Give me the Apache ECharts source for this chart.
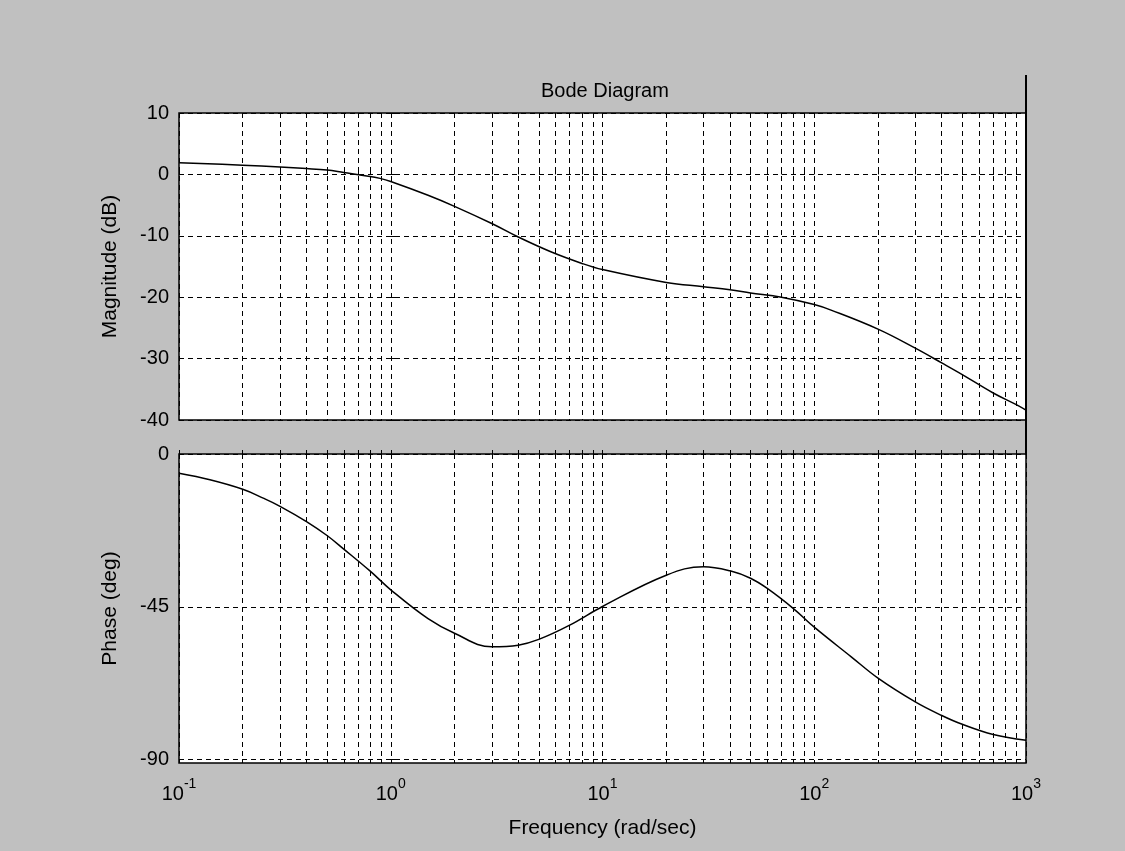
<!DOCTYPE html>
<html>
<head>
<meta charset="utf-8">
<title>Bode Diagram</title>
<script src="https://cdn.jsdelivr.net/npm/echarts@6/dist/echarts.min.js"></script>
<style>
  html, body { margin: 0; padding: 0; background: #c0c0c0; }
  #chart { width: 1125px; height: 851px; }
</style>
</head>
<body>
<div id="chart"></div>
<script>
// magnitude (rad/sec, dB)
var magFreq = [0.1, 0.2, 0.3, 0.4, 0.5, 0.6, 0.77, 0.89, 1, 1.5, 2, 3, 4, 5.7, 8, 10,
    20, 30, 40, 50, 70, 100, 120, 200, 300, 400, 500, 700, 900, 1000];
var magDb = [1.9, 1.5, 1.2, 0.95, 0.7, 0.3, -0.25, -0.65, -1.15, -3.4, -5.2, -8.0, -10.2, -12.6, -14.5, -15.5,
    -17.6, -18.3, -18.8, -19.3, -20.0, -21.2, -22.1, -25.2, -28.3, -30.7, -32.6, -35.6, -37.5, -38.4];

// phase (rad/sec, deg)
var phFreq = [0.1, 0.14, 0.2, 0.25, 0.3, 0.4, 0.5, 0.6, 0.8, 1, 1.5, 2, 3, 4, 5, 7, 10,
    20, 30, 40, 50, 60, 80, 100, 150, 200, 300, 400, 500, 700, 1000];
var phDeg = [-5.7, -7.6, -10.4, -13.0, -15.4, -19.9, -24.0, -28.0, -34.5, -40.0, -48.5, -52.8, -56.8, -56.3, -54.6, -50.4, -44.9,
    -35.7, -33.2, -34.4, -36.6, -39.6, -45.6, -51.0, -59.8, -66.0, -73.0, -77.0, -79.6, -82.6, -84.3];

var decades = [-1, 0, 1, 2, 3];
var phTicks = [-90, -45, 0];

// log grid: 1..9 in every decade, as log10 positions
var logLines = [];
for (var d = -1; d < 3; d++) {
    for (var k = 1; k < 10; k++) {
        logLines.push(Math.log10(k * Math.pow(10, d)));
    }
}
logLines.push(3);

function toLog(freq, vals) {
    return freq.map(function (f, i) { return [Math.log10(f), vals[i]]; });
}

var font = 'Liberation Sans, Arial, sans-serif';
var dash = { color: '#000', width: 1, type: [5, 4] };

function xAxisFor(idx, withLabels) {
    return {
        type: 'value', gridIndex: idx, min: -1, max: 3,
        axisLine: { show: false },
        axisTick: { show: true, inside: true, length: 4, customValues: logLines,
            lineStyle: { color: '#000' } },
        splitLine: { show: true, lineStyle: dash },
        axisLabel: {
            show: withLabels, customValues: decades, margin: 9, color: '#000',
            formatter: function (v) { return '{b|10}{s|' + Math.round(v) + '}'; },
            rich: {
                b: { fontFamily: font, fontSize: 20, color: '#000', padding: [12, 0, 0, 0] },
                s: { fontFamily: font, fontSize: 14, color: '#000', padding: [0, 0, 8, 0] }
            }
        },
        name: withLabels ? 'Frequency (rad/sec)' : '',
        nameLocation: 'middle', nameGap: 55,
        nameTextStyle: { fontFamily: font, fontSize: 21, color: '#000' }
    };
}

var option = {
    backgroundColor: '#c0c0c0',
    animation: false,
    title: {
        text: 'Bode Diagram', left: 536, top: 76,
        textStyle: { fontFamily: font, fontSize: 20, fontWeight: 'normal', color: '#000' }
    },
    grid: [
        { left: 179, right: 99, top: 113, height: 307, show: true,
          backgroundColor: '#fff', borderColor: '#000', borderWidth: 1.5 },
        { left: 179, right: 99, top: 454, height: 309, show: true,
          backgroundColor: '#fff', borderColor: '#000', borderWidth: 1.5 }
    ],
    xAxis: [xAxisFor(0, false), xAxisFor(1, true)],
    yAxis: [
        {
            type: 'value', gridIndex: 0, min: -40, max: 10, interval: 10,
            axisLine: { show: false },
            axisTick: { show: true, inside: true, length: 5, lineStyle: { color: '#000' } },
            splitLine: { show: true, lineStyle: dash },
            axisLabel: { fontFamily: font, fontSize: 20, color: '#000', margin: 10 },
            name: 'Magnitude (dB)', nameLocation: 'middle', nameGap: 58,
            nameTextStyle: { fontFamily: font, fontSize: 21, color: '#000' }
        },
        {
            type: 'value', gridIndex: 1, min: -91, max: 0,
            axisLine: { show: false },
            axisTick: { show: true, inside: true, length: 5, customValues: phTicks,
                lineStyle: { color: '#000' } },
            splitLine: { show: true, lineStyle: dash },
            axisLabel: { fontFamily: font, fontSize: 20, color: '#000', margin: 10,
                customValues: phTicks },
            name: 'Phase (deg)', nameLocation: 'middle', nameGap: 58,
            nameTextStyle: { fontFamily: font, fontSize: 21, color: '#000' }
        }
    ],
    series: [
        {
            type: 'line', xAxisIndex: 0, yAxisIndex: 0,
            data: toLog(magFreq, magDb),
            smooth: 0.4, showSymbol: false,
            lineStyle: { color: '#000', width: 1.5 }
        },
        {
            type: 'line', xAxisIndex: 1, yAxisIndex: 1,
            data: toLog(phFreq, phDeg),
            smooth: 0.4, showSymbol: false,
            lineStyle: { color: '#000', width: 1.5 }
        }
    ]
};

var chart = echarts.init(document.getElementById('chart'));
chart.setOption(option);

// the stray vertical line on the right edge, above and between the panels
var topRight = chart.convertToPixel({ gridIndex: 0 }, [3, 10]);
var botRight = chart.convertToPixel({ gridIndex: 1 }, [3, 0]);
chart.setOption({
    graphic: [{
        type: 'line',
        shape: { x1: topRight[0], y1: topRight[1] - 38, x2: botRight[0], y2: botRight[1] },
        style: { stroke: '#000', lineWidth: 2 }
    }]
});
</script>
</body>
</html>
